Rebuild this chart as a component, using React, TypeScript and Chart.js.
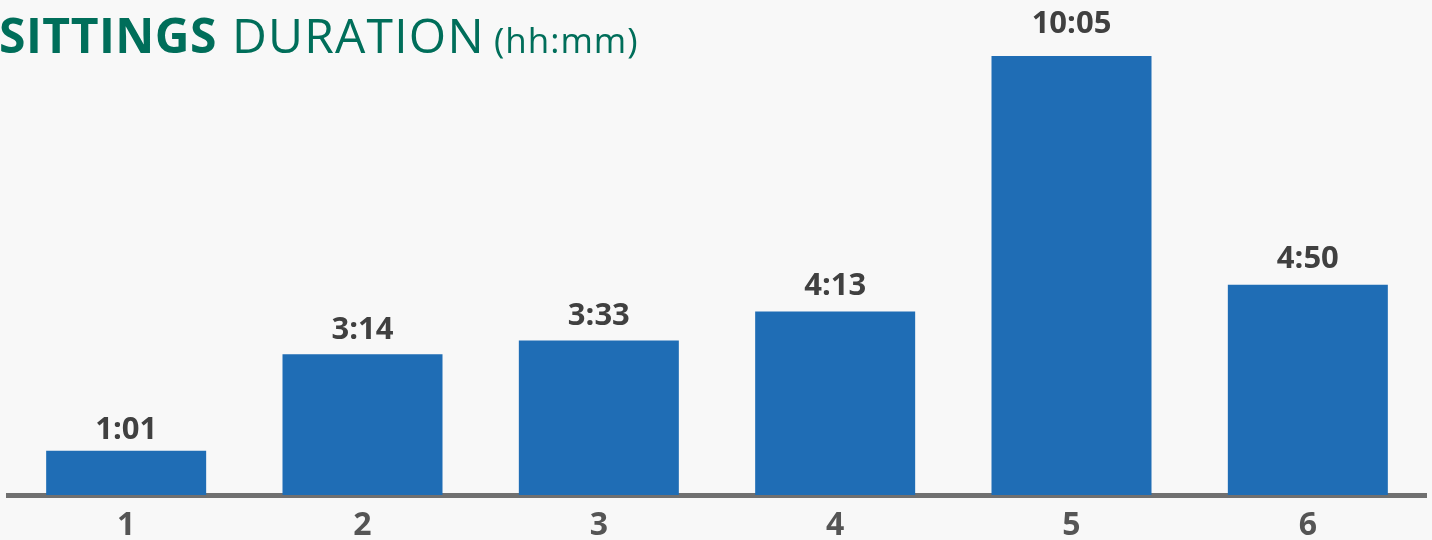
import React, { useEffect, useRef } from 'react';
import { Chart, registerables } from 'chart.js';

Chart.register(...registerables);

const categories = ['1', '2', '3', '4', '5', '6'];
const durationMinutes = [61, 194, 213, 253, 605, 290];
const titleBold = 'SITTINGS';
const titleRegular = 'DURATION';
const titleUnit = '(hh:mm)';

const FONT = '"Open Sans", "Noto Sans", sans-serif';

const fmt = (m: number) => `${Math.floor(m / 60)}:${String(m % 60).padStart(2, '0')}`;

const bgPlugin = {
  id: 'bg',
  beforeDraw(chart: any) {
    const { ctx, width, height } = chart;
    ctx.save();
    ctx.fillStyle = '#f8f8f8';
    ctx.fillRect(0, 0, width, height);
    ctx.restore();
  },
};

const labelPlugin = {
  id: 'valueLabels',
  afterDatasetsDraw(chart: any) {
    const { ctx } = chart;
    const meta = chart.getDatasetMeta(0);
    ctx.save();
    ctx.font = `bold 31px ${FONT}`;
    ctx.fillStyle = '#404040';
    ctx.textAlign = 'center';
    ctx.textBaseline = 'alphabetic';
    meta.data.forEach((bar: any, i: number) => {
      const h = bar.base - bar.y;
      const off = 11 + 0.028 * h;
      ctx.fillText(fmt(durationMinutes[i]), bar.x, bar.y - off);
    });
    ctx.restore();
  },
};

const titlePlugin = {
  id: 'mixedTitle',
  afterDraw(chart: any) {
    const { ctx } = chart;
    ctx.save();
    ctx.fillStyle = '#006e5a';
    ctx.textBaseline = 'alphabetic';
    ctx.textAlign = 'left';
    const y = 53;
    ctx.font = `bold 48px ${FONT}`;
    (ctx as any).letterSpacing = '0.5px';
    ctx.fillText(titleBold, -1, y);
    ctx.font = `normal 48px ${FONT}`;
    (ctx as any).letterSpacing = '1.2px';
    ctx.fillText(titleRegular, 232, y);
    ctx.font = `normal 35px ${FONT}`;
    (ctx as any).letterSpacing = '1px';
    ctx.fillText(titleUnit, 494, y);
    ctx.restore();
  },
};

export default function App() {
  const ref = useRef<HTMLCanvasElement>(null);

  useEffect(() => {
    if (!ref.current) return;
    const chart = new Chart(ref.current, {
      type: 'bar',
      data: {
        labels: categories,
        datasets: [
          {
            data: durationMinutes,
            backgroundColor: '#1f6db5',
            borderWidth: 0,
            barPercentage: 0.677,
            categoryPercentage: 1,
          },
        ],
      },
      options: {
        responsive: false,
        animation: false,
        devicePixelRatio: 1,
        layout: { padding: { top: 30, left: 8, right: 6, bottom: 0 } },
        scales: {
          x: {
            grid: { display: false, drawTicks: false },
            border: { display: true, color: '#707070', width: 5 },
            ticks: {
              color: '#555555',
              padding: 12,
              font: { family: FONT, size: 32, weight: 'bold' },
            },
            afterFit: (scale: any) => {
              scale.height = 45;
            },
          },
          y: { display: false, min: 0, max: 641 },
        },
        plugins: {
          legend: { display: false },
          tooltip: { enabled: false },
        },
      },
      plugins: [bgPlugin, labelPlugin, titlePlugin],
    });
    return () => chart.destroy();
  }, []);

  return (
    <div
      style={{
        position: 'absolute',
        left: 0,
        top: 0,
        width: 1432,
        height: 540,
        background: '#f8f8f8',
        overflow: 'hidden',
      }}
    >
      <canvas ref={ref} width={1432} height={540} style={{ width: 1432, height: 540, display: 'block' }} />
    </div>
  );
}
